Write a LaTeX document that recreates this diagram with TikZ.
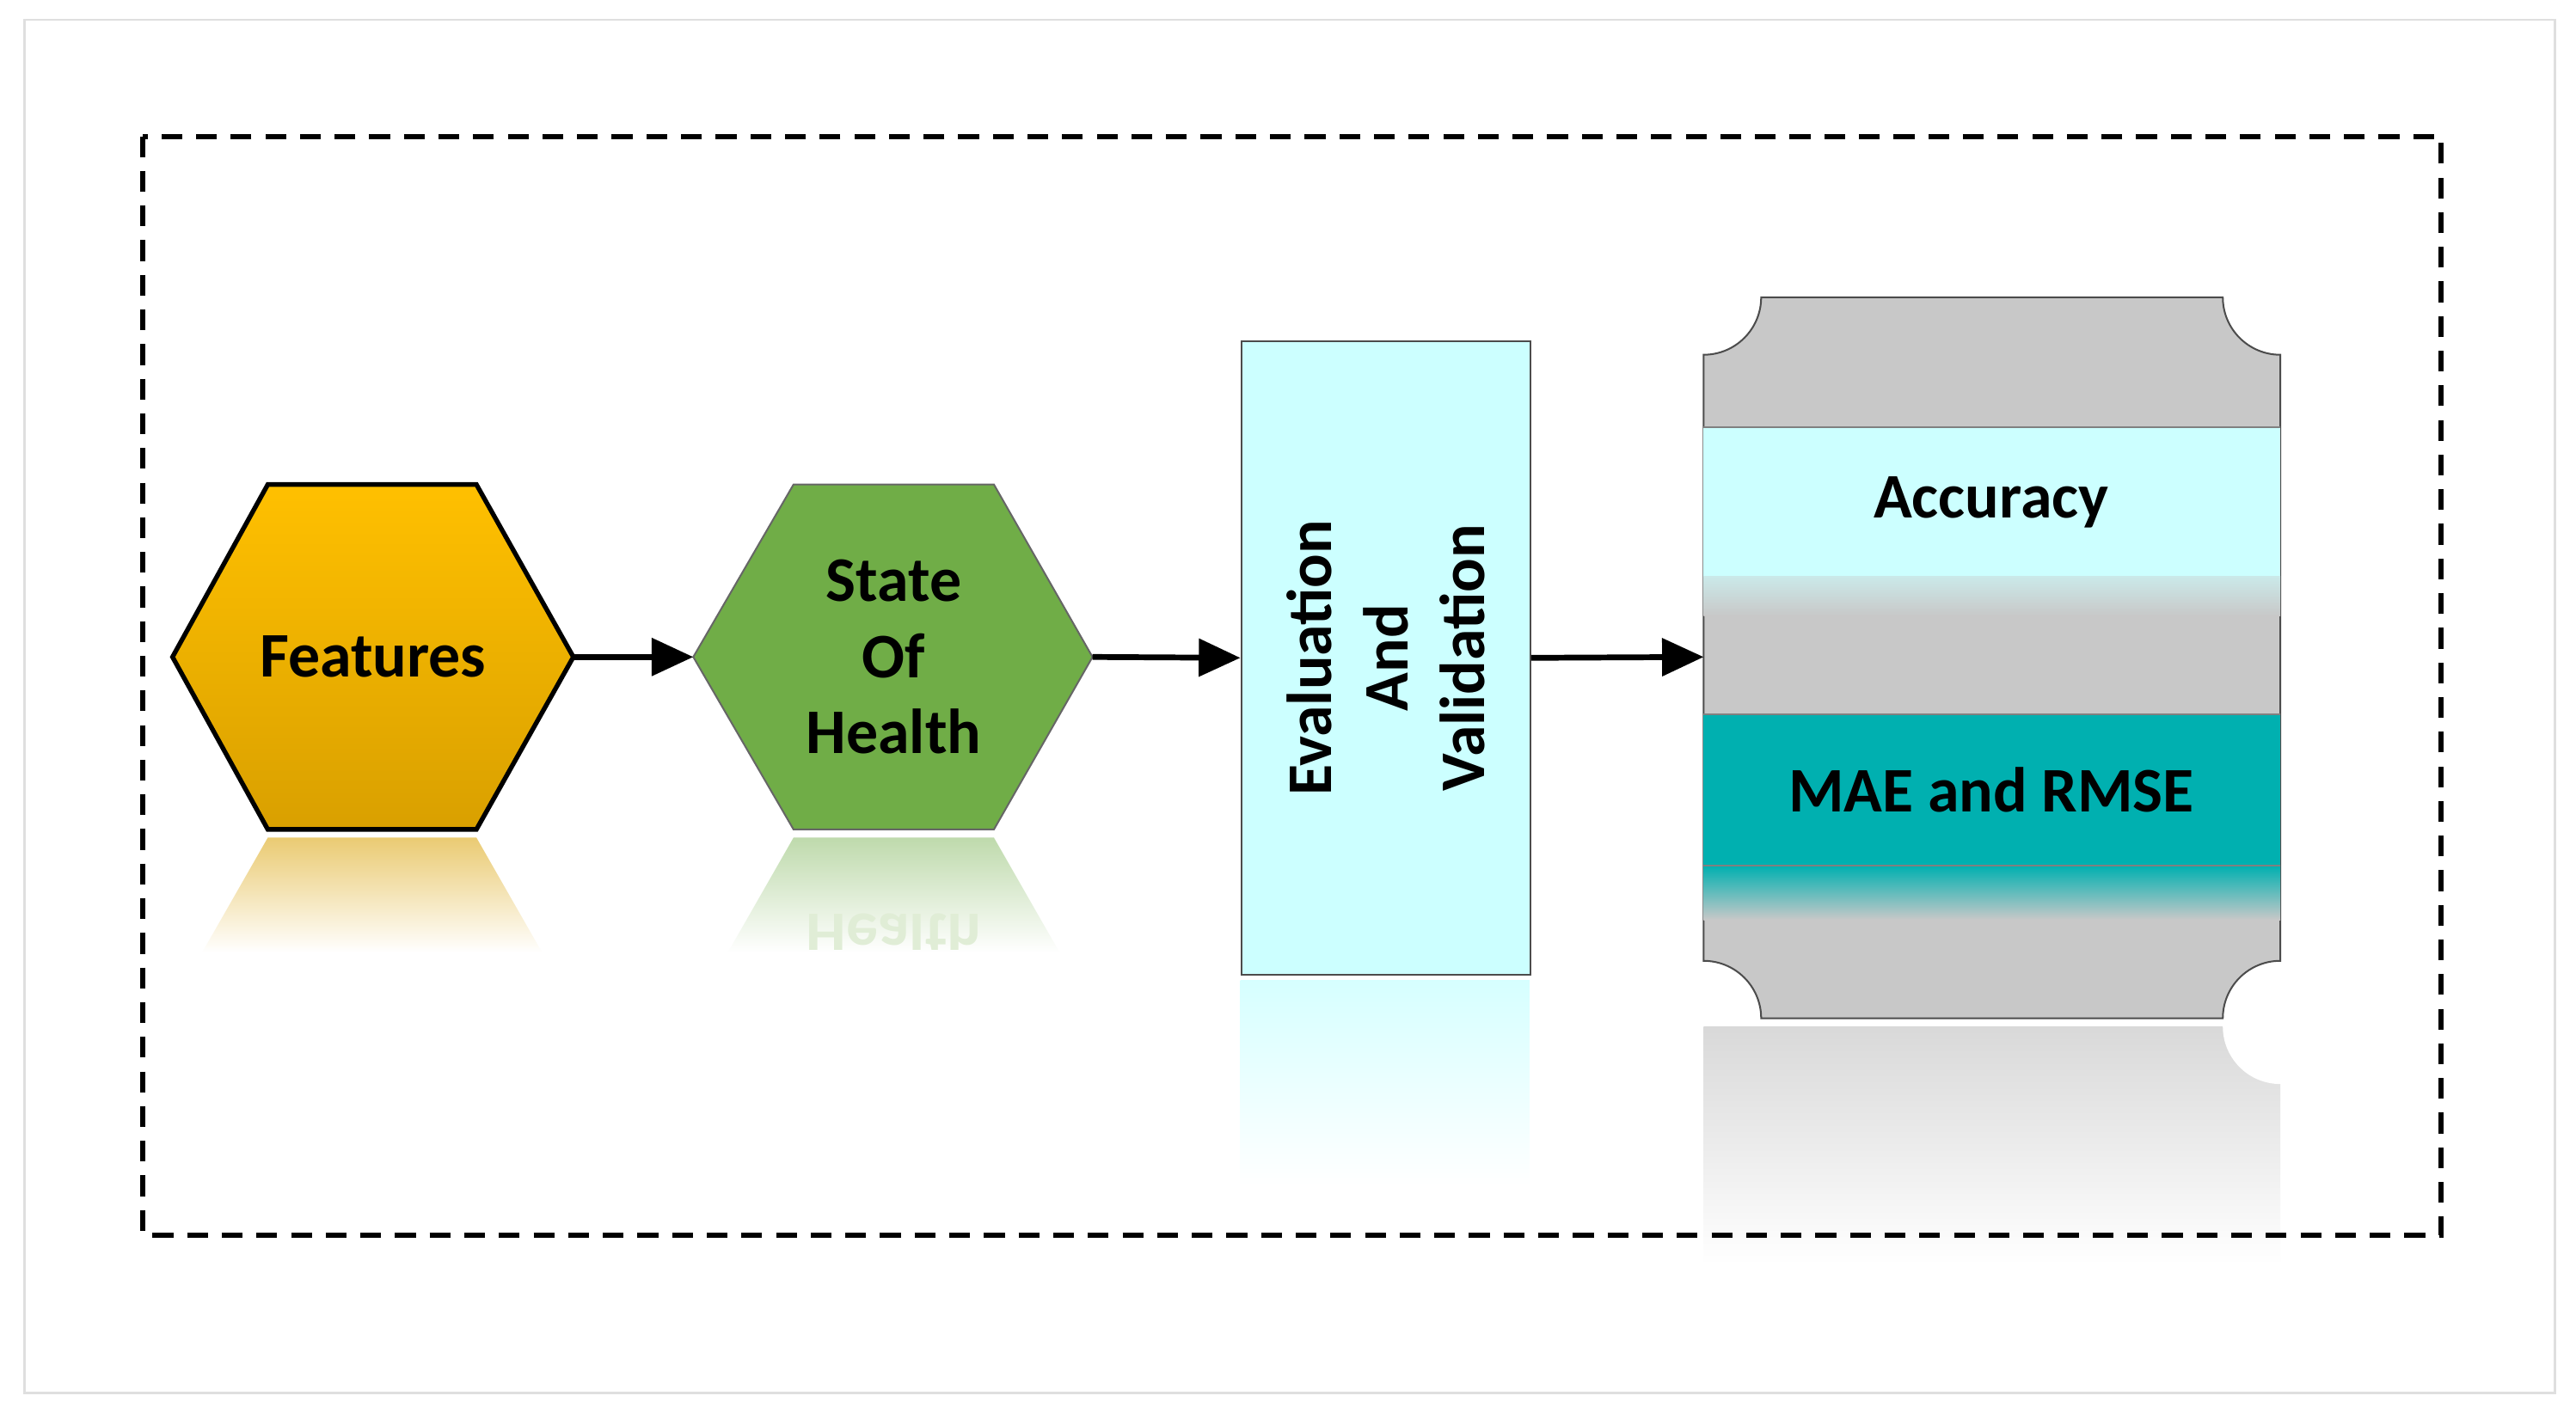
\documentclass[tikz,border=0pt]{standalone}
\usepackage{fontspec}
\setmainfont{Carlito}
\usetikzlibrary{arrows.meta}
\definecolor{org}{HTML}{FFC000}
\definecolor{orgd}{HTML}{D9A000}
\definecolor{grn}{HTML}{70AD47}
\definecolor{cyn}{HTML}{CCFFFF}
\definecolor{teal2}{HTML}{00B0B0}
\definecolor{gry}{HTML}{C8C8C8}
\begin{document}
\begin{tikzpicture}[x=0.5mm,y=-0.5mm,
  lbl/.style={font=\fontsize{55}{66}\selectfont\bfseries,align=center,text=black},
  arr/.style={line width=5pt,-{Triangle[length=36pt,width=32pt]}}]
\useasboundingbox (0,0) rectangle (1568,857);
\fill[white] (0,0) rectangle (1568,857);
\draw[gray!25,line width=2pt] (15,12) rectangle (1555,848);
% reflections
\shade[top color=orgd!55,bottom color=white] (163,510)--(290,510)--(330,580)--(123,580)--cycle;
\shade[top color=grn!45,bottom color=white] (483,510)--(605,510)--(645,580)--(443,580)--cycle;
\begin{scope}
\clip (443,550) rectangle (645,578);
\node[font=\fontsize{55}{66}\selectfont\bfseries,text=grn!22,yscale=-1] at (544,570) {Health};
\end{scope}
\shade[top color=cyn!80,bottom color=white] (755,597) rectangle (931,722);
\shade[top color=gry!70,bottom color=white] (1037,625) rectangle (1388,770);
\fill[white] (1388,625) circle[radius=35];
% frame
\draw[line width=4.5pt,dash pattern=on 18pt off 12pt] (87,83) rectangle (1486,752);
% features
\shade[top color=org,bottom color=orgd,draw=black,line width=4pt] (105,400)--(163,295)--(290,295)--(349,400)--(290,505)--(163,505)--cycle;
\node[lbl] (feat) at (227,400) {Features};
\coordinate (fR) at (349,400);
% SoH
\fill[grn,draw=black!60,line width=1.5pt] (422,400)--(483,295)--(605,295)--(665,400)--(605,505)--(483,505)--cycle;
\node[lbl] (soh) at (544,400) {State\\Of\\Health};
\coordinate (sL) at (422,400);
\coordinate (sR) at (665,400);
% eval
\node[fill=cyn,draw=black!70,line width=1.5pt,minimum width=88mm,minimum height=193mm,anchor=north west,inner sep=0] (ev) at (755,207) {};
\node[lbl,rotate=90] at (ev.center) {Evaluation\\And\\Validation};
% metric shape
\def\r{35}
\fill[gry,draw=black!70,line width=1.5pt] (1072,181)--(1353,181) arc[start angle=180,end angle=90,radius=\r] -- (1388,585) arc[start angle=270,end angle=180,radius=\r] -- (1072,620) arc[start angle=0,end angle=-90,radius=\r] -- (1037,216) arc[start angle=90,end angle=0,radius=\r] -- cycle;
\fill[cyn] (1037,260) rectangle (1388,351);
\shade[top color=cyn!60!gry,bottom color=gry] (1037,351) rectangle (1388,375);
\fill[teal2] (1037,435) rectangle (1388,527);
\shade[top color=teal2,bottom color=gry] (1037,527) rectangle (1388,560);
\draw[black!50,line width=1.2pt] (1037,260)--(1388,260) (1037,435)--(1388,435) (1037,527)--(1388,527);
\node[lbl] (acc) at (1212,306) {Accuracy};
\node[lbl] (mae) at (1212,481) {MAE and RMSE};
\coordinate (mL) at (1037,400);
% arrows
\draw[arr] (fR)--(sL);
\draw[arr] (sR)--(ev.west);
\draw[arr] (ev.east)--(mL);
\end{tikzpicture}
\end{document}
